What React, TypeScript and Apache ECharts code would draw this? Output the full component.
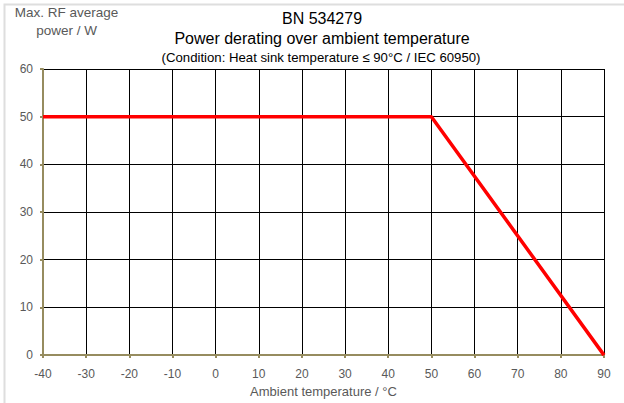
import React, { useEffect, useRef } from "react";
import * as echarts from "echarts";

const temperatures = [-40, 50, 90];
const power = [50, 50, 0];
const titleLines = ["BN 534279", "Power derating over ambient temperature", "(Condition: Heat sink temperature ≤ 90°C / IEC 60950)"];
const yName = "Max. RF average\npower / W";
const xName = "Ambient temperature / °C";

export default function App() {
  const ref = useRef<HTMLDivElement>(null);
  useEffect(() => {
    const chart = echarts.init(ref.current!, null, { renderer: "svg" });
    const font = "'Liberation Sans', Arial, sans-serif";
    const axisColor = "#968c5f";
    const grey = "#595959";
    chart.setOption({
      animation: false,
      backgroundColor: "#ffffff",
      textStyle: { fontFamily: font },
      grid: { left: 43, right: 20, top: 69, bottom: 46, containLabel: false },
      graphic: [
        {
          type: "rect",
          shape: { x: 4.5, y: 4.5, width: 640, height: 420 },
          style: { fill: "none", stroke: "#dedede", lineWidth: 2 },
          silent: true,
        },
        {
          type: "text",
          x: 322, y: 18,
          style: { text: titleLines[0], font: `16px ${font}`, fill: "#000", align: "center", verticalAlign: "middle" },
        },
        {
          type: "text",
          x: 322, y: 38,
          style: { text: titleLines[1], font: `16px ${font}`, fill: "#000", align: "center", verticalAlign: "middle" },
        },
        {
          type: "text",
          x: 321, y: 57,
          style: { text: titleLines[2], font: `13.2px ${font}`, fill: "#000", align: "center", verticalAlign: "middle" },
        },
        {
          type: "text",
          x: 66.5, y: 21,
          style: { text: yName, font: `13.5px ${font}`, fill: grey, align: "center", verticalAlign: "middle", lineHeight: 18 },
        },
      ],
      xAxis: {
        type: "value",
        min: -40,
        max: 90,
        interval: 10,
        name: xName,
        nameLocation: "middle",
        nameGap: 27,
        nameTextStyle: { color: grey, fontSize: 13, fontFamily: font },
        axisLine: { show: true, onZero: false, lineStyle: { color: axisColor, width: 2 } },
        axisTick: { show: true, length: 3, lineStyle: { color: axisColor, width: 2 } },
        axisLabel: { color: grey, fontSize: 12, margin: 13, fontFamily: font },
        splitLine: { show: true, lineStyle: { color: "#000", width: 1 } },
      },
      yAxis: {
        type: "value",
        min: 0,
        max: 60,
        interval: 10,
        axisLine: { show: true, onZero: false, lineStyle: { color: axisColor, width: 2 } },
        axisTick: { show: true, length: 3, lineStyle: { color: axisColor, width: 2 } },
        axisLabel: { color: grey, fontSize: 12, margin: 10, fontFamily: font },
        splitLine: { show: true, lineStyle: { color: "#000", width: 1 } },
      },
      series: [
        {
          type: "line",
          data: temperatures.map((t, i) => [t, power[i]]),
          symbol: "none",
          lineStyle: { color: "#ff0000", width: 3.5 },
          z: 5,
        },
      ],
    });
    return () => chart.dispose();
  }, []);
  return <div ref={ref} style={{ width: 624, height: 403, position: "absolute", left: 0, top: 0 }} />;
}
